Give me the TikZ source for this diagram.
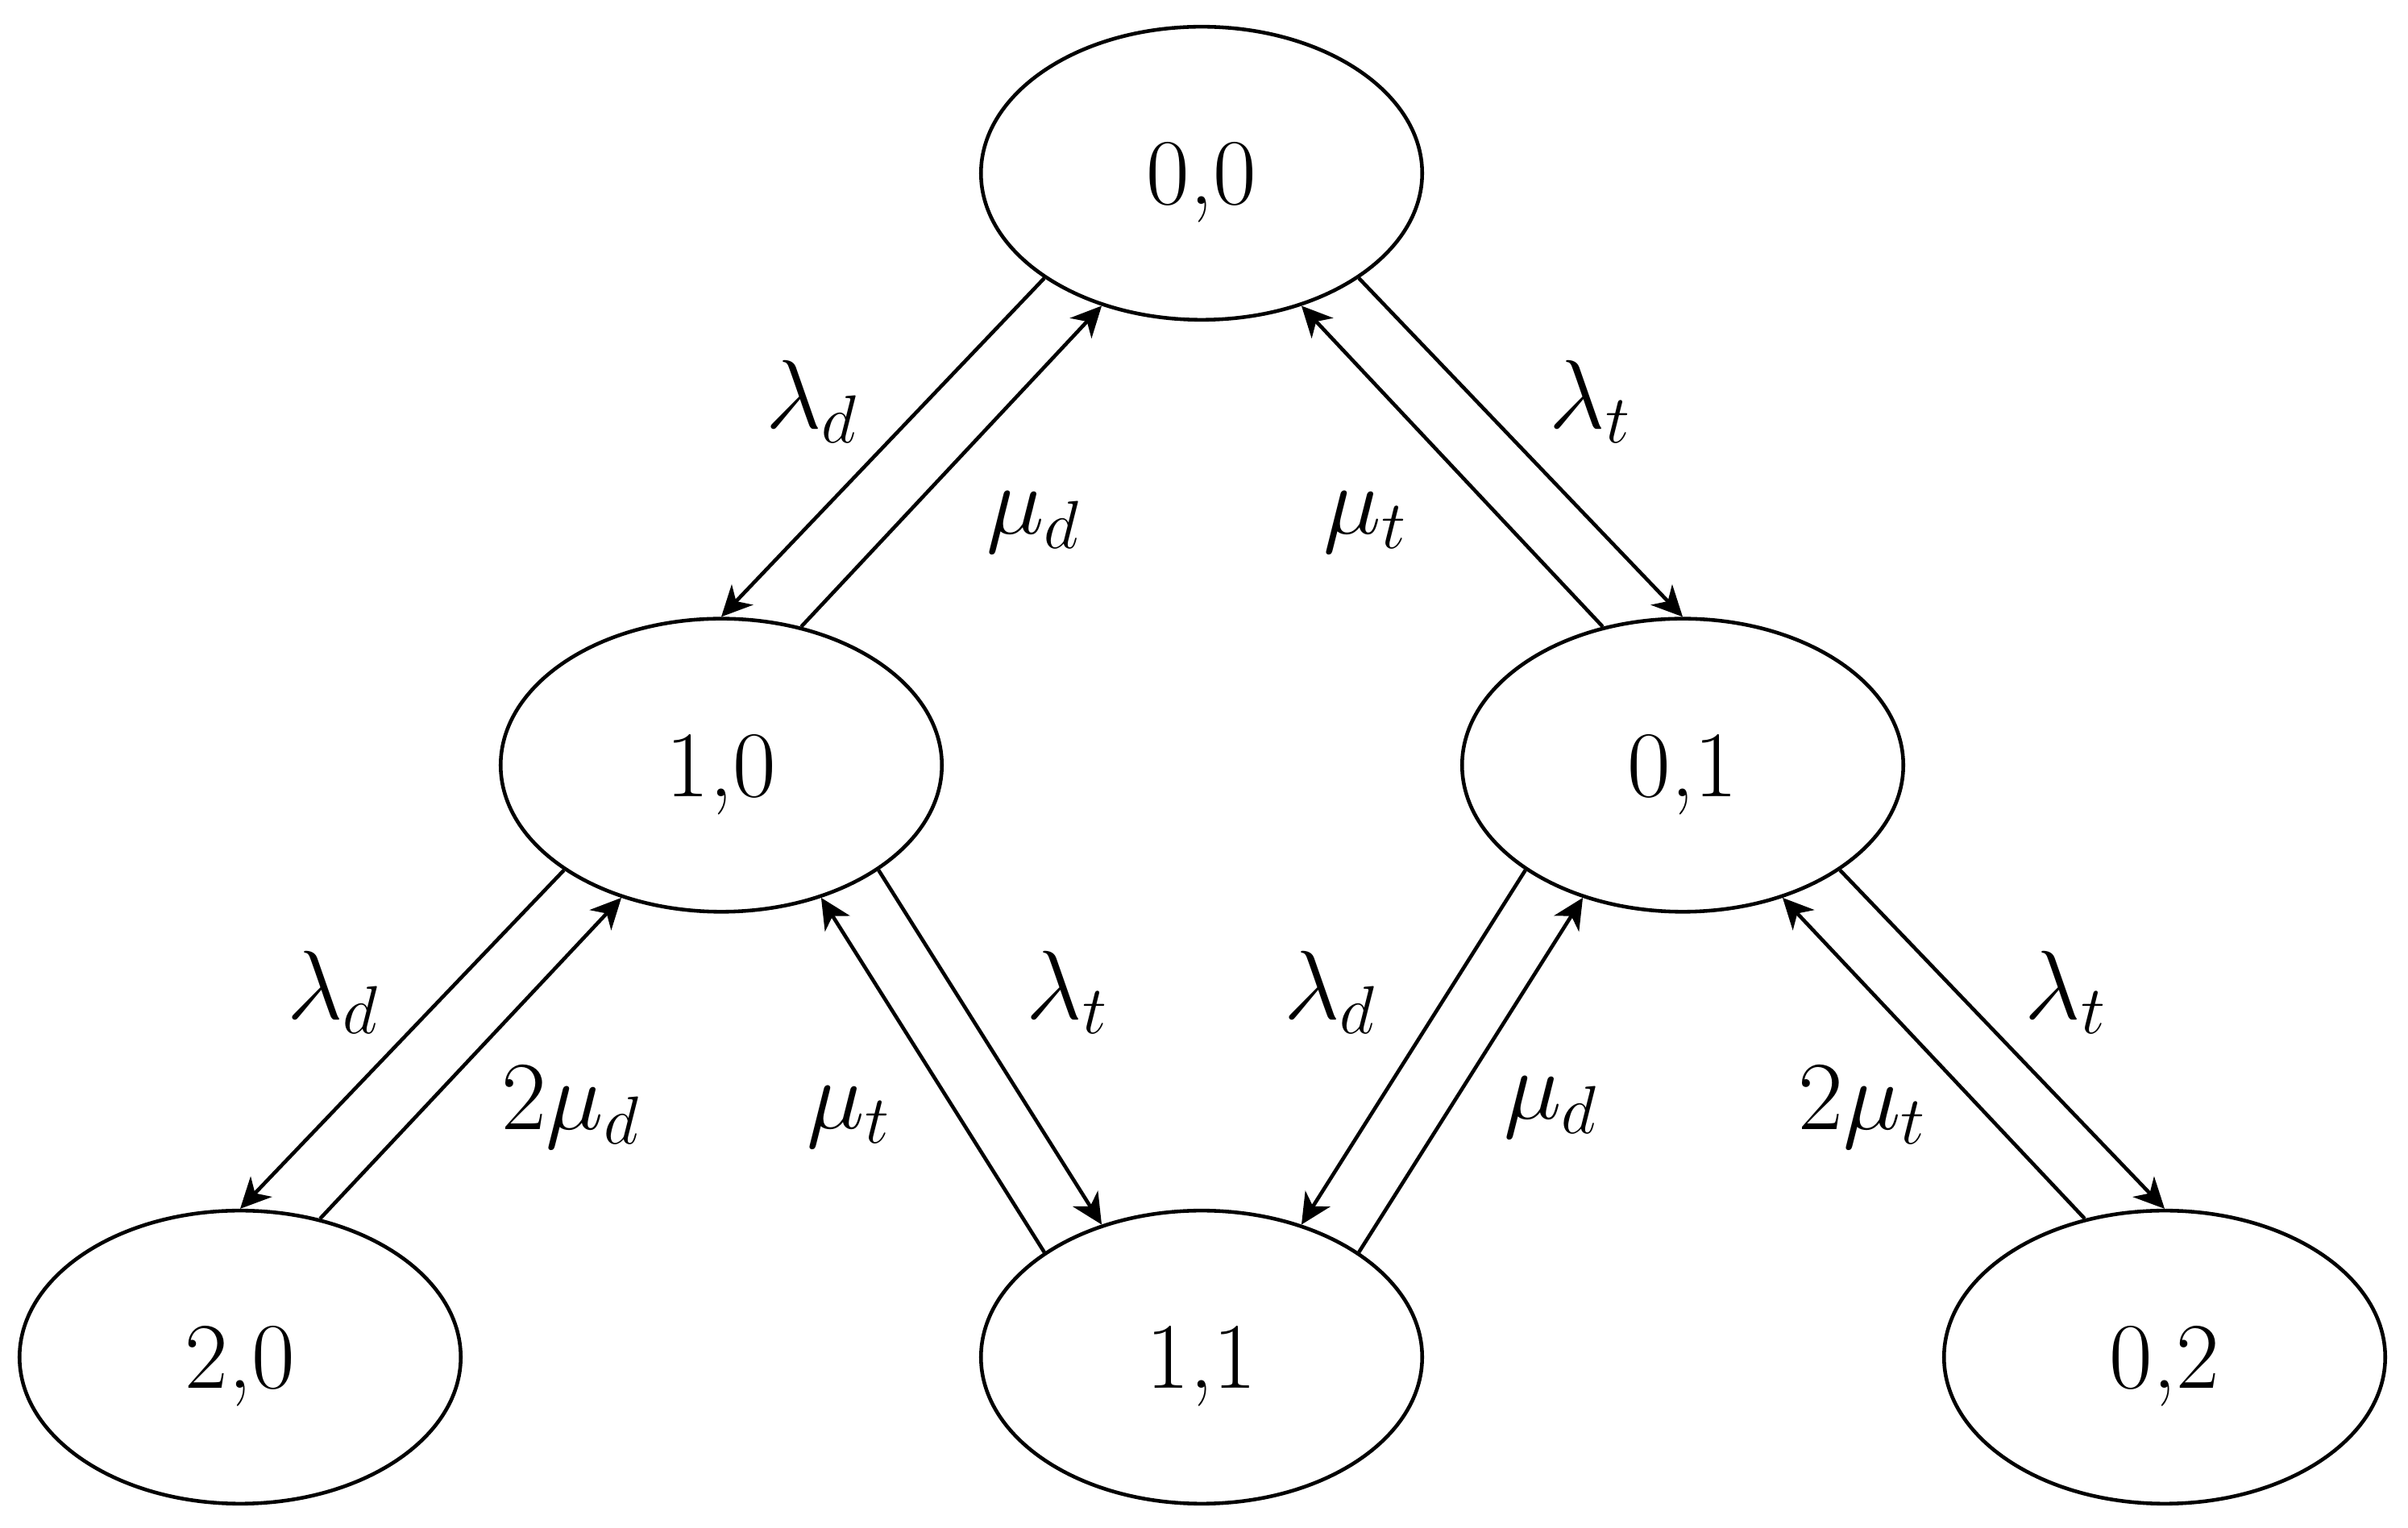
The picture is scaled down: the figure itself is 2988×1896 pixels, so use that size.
\documentclass[tikz,border=0pt]{standalone}
\usetikzlibrary{shapes.geometric, arrows.meta}
\begin{document}
\begin{tikzpicture}[x=0.005cm, y=-0.005cm,
  state/.style={draw, ellipse, line width=0.65pt, minimum width=2.74cm, minimum height=1.82cm, inner sep=0pt, text depth=0pt, font=\fontsize{16.6}{20}\selectfont},
  trans/.style={-{Stealth[length=5.4pt,width=5.2pt,inset=1.6pt]}, line width=0.65pt},
  rate/.style={font=\fontsize{16.6}{20}\selectfont, inner sep=0pt}]
\useasboundingbox (0,0) rectangle (2988,1896);
% states
\node[state] (n00) at (1491,215) {0,0};
\node[state] (n10) at (895,949.5) {1,0};
\node[state] (n01) at (2088,949.5) {0,1};
\node[state] (n20) at (298,1684) {2,0};
\node[state] (n11) at (1491,1684) {1,1};
\node[state] (n02) at (2686,1684) {0,2};
% transitions
\draw[trans] (n00.south west) -- (n10.north);
\draw[trans] (n10.60) -- (n00.233);
\draw[trans] (n00.south east) -- (n01.north);
\draw[trans] (n01.120) -- (n00.307);
\draw[trans] (n10.south west) -- (n20.north);
\draw[trans] (n20.60) -- (n10.233);
\draw[trans] (n10.south east) -- (n11.127);
\draw[trans] (n11.north west) -- (n10.307);
\draw[trans] (n01.south west) -- (n11.53);
\draw[trans] (n11.north east) -- (n01.233);
\draw[trans] (n01.south east) -- (n02.north);
\draw[trans] (n02.120) -- (n01.307);
% rates
\node[rate] (r1) at (1008,498) {$\lambda_d$};
\node[rate] (r2) at (1283,648) {$\mu_d$};
\node[rate] (r3) at (1695,648) {$\mu_t$};
\node[rate] (r4) at (1974,498) {$\lambda_t$};
\node[rate] (r5) at (414,1231) {$\lambda_d$};
\node[rate] (r6) at (709,1374) {$2\mu_d$};
\node[rate] (r7) at (1054,1386) {$\mu_t$};
\node[rate] (r8) at (1325,1231) {$\lambda_t$};
\node[rate] (r9) at (1651,1231) {$\lambda_d$};
\node[rate] (r10) at (1925,1374) {$\mu_d$};
\node[rate] (r11) at (2312,1374) {$2\mu_t$};
\node[rate] (r12) at (2564,1231) {$\lambda_t$};
\end{tikzpicture}
\end{document}
